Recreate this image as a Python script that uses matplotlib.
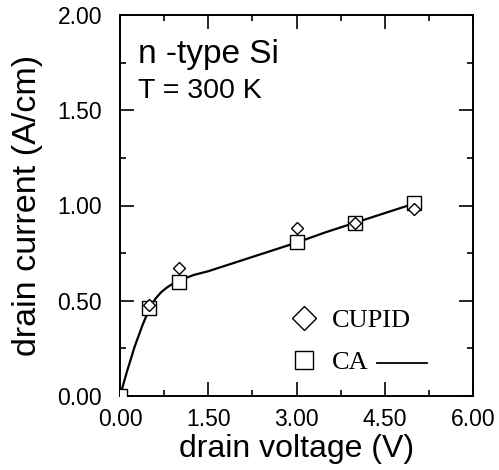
import matplotlib.pyplot as plt
from matplotlib.lines import Line2D
from matplotlib.ticker import MultipleLocator

# CUPID simulation points
cupid_v = [0.5, 1.0, 3.0, 4.0, 5.0]
cupid_i = [0.48, 0.67, 0.88, 0.91, 0.98]

# CA (cellular automaton) points
ca_v = [0.0, 0.5, 1.0, 3.0, 4.0, 5.0]
ca_i = [0.0, 0.46, 0.60, 0.81, 0.91, 1.015]

# CA curve
curve_v = [0.0, 0.12, 0.25, 0.38, 0.5, 0.6, 0.7, 0.8, 0.9, 1.0, 1.25, 1.5,
           2.0, 2.5, 3.0, 3.5, 4.0, 4.5, 5.0]
curve_i = [0.0, 0.13, 0.26, 0.37, 0.46, 0.51, 0.545, 0.57, 0.59, 0.605, 0.635,
           0.655, 0.705, 0.755, 0.805, 0.86, 0.91, 0.96, 1.01]

xticks = [0.0, 1.5, 3.0, 4.5, 6.0]
yticks = [0.0, 0.5, 1.0, 1.5, 2.0]

plt.rcParams['font.family'] = ['Liberation Sans', 'DejaVu Sans']

fig = plt.figure(figsize=(4.99, 4.70), dpi=100)
ax = fig.add_axes([120/499, 1-396/470, 353/499, 381/470])

ax.plot(curve_v, curve_i, color='black', lw=1.6, zorder=2)
ax.plot(ca_v, ca_i, ls='none', marker='s', ms=9.5, mfc='white', mec='black',
        mew=1.0, zorder=3)
ax.plot(cupid_v, cupid_i, ls='none', marker='D', ms=6, mfc='white', mec='black',
        mew=1.0, zorder=4)

ax.set_xlim(0, 6)
ax.set_ylim(0, 2)
ax.set_xticks(xticks)
ax.set_yticks(yticks)
ax.set_xticklabels([f'{v:.2f}' for v in xticks])
ax.set_yticklabels([f'{v:.2f}' for v in yticks])
ax.xaxis.set_minor_locator(MultipleLocator(0.75))
ax.yaxis.set_minor_locator(MultipleLocator(0.25))
ax.tick_params(which='both', direction='in', top=True, right=True, width=1.2)
ax.tick_params(which='major', length=10, labelsize=16.5)
ax.tick_params(axis='x', which='major', pad=9)
ax.tick_params(axis='y', which='major', pad=13)
ax.tick_params(which='minor', length=4.5)
for s in ax.spines.values():
    s.set_linewidth(1.4)

ax.set_xlabel('drain voltage (V)', fontsize=23, labelpad=2)
ax.set_ylabel('drain current (A/cm)', fontsize=24.5, labelpad=10)

ax.text(0.05, 0.874, 'n -type Si', transform=ax.transAxes, fontsize=24,
        va='baseline')
ax.text(0.05, 0.782, 'T = 300 K', transform=ax.transAxes, fontsize=20.5,
        va='baseline')

# legend
handles = [Line2D([], [], ls='none', marker='D', ms=12, mfc='white',
                  mec='black', mew=1.0),
           Line2D([], [], ls='none', marker='s', ms=13, mfc='white',
                  mec='black', mew=1.0)]
ax.legend(handles, ['CUPID', 'CA'], loc='center left',
          bbox_to_anchor=(0.41, 0.143), frameon=False, handlelength=1.2,
          handletextpad=0.45, labelspacing=0.72,
          prop={'family': 'Liberation Serif', 'size': 19})
ax.plot([0.728, 0.87], [0.087, 0.087], transform=ax.transAxes,
        color='black', lw=1.3)

fig.savefig('out.png', dpi=100)
